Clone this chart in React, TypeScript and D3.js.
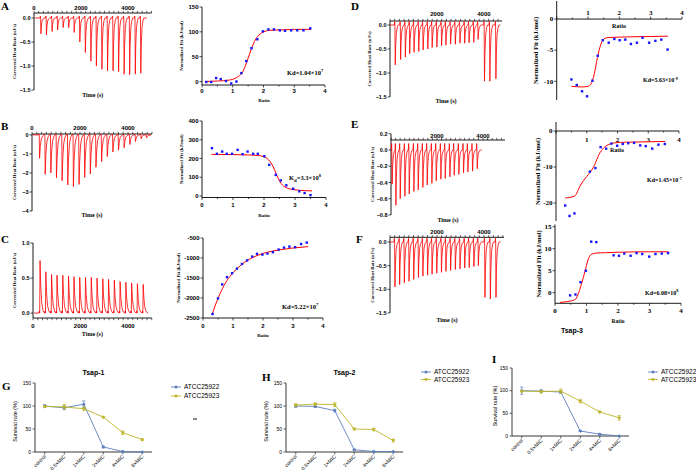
import React from 'react';
import * as d3 from 'd3';

const SERIF = '"Liberation Serif","Times New Roman",serif';
const SANS = '"Liberation Sans",Arial,sans-serif';
const RED = '#ff0000';
const DOT = '#1414ff';
const BLUE = '#5b7fbe';
const OLIVE = '#bdb52b';

// ---------- raw ITC data (injection time s, peak uJ/s) ----------
const aTimes = [285, 520, 760, 995, 1230, 1465, 1700, 1940, 2175, 2410, 2645, 2880, 3120, 3355, 3590, 3825, 4060, 4300, 4535];
const aPeaks = [-0.33, -0.35, -0.28, -0.25, -0.2, -0.2, -0.3, -0.5, -0.72, -0.9, -1.0, -1.07, -1.1, -1.1, -1.12, -1.17, -1.18, -1.17, -1.15];
const bTimes = [306, 540, 775, 1010, 1245, 1480, 1715, 1950, 2185, 2420, 2655, 2890, 3125, 3360, 3595, 3830, 4065, 4300, 4535, 4760];
const bPeaks = [-1.23, -2.07, -2.0, -2.25, -2.4, -2.63, -2.72, -2.6, -2.23, -2.05, -1.7, -1.4, -1.14, -0.9, -0.8, -0.67, -0.5, -0.35, -0.2, -0.15];
const cTimes = [286, 529, 771, 1000, 1243, 1486, 1714, 1957, 2200, 2443, 2686, 2929, 3171, 3414, 3657, 3900, 4143, 4386, 4629];
const cPeaks = [0.75, 0.59, 0.55, 0.54, 0.54, 0.53, 0.52, 0.51, 0.51, 0.51, 0.5, 0.49, 0.48, 0.47, 0.45, 0.44, 0.43, 0.42, 0.41];
const dTimes = [214, 443, 643, 829, 1014, 1214, 1400, 1600, 1786, 1986, 2186, 2371, 2571, 2771, 2971, 3171, 3357, 3557, 3743, 4014, 4243, 4500];
const dPeaks = [-0.83, -0.72, -0.67, -0.6, -0.57, -0.55, -0.52, -0.5, -0.47, -0.46, -0.43, -0.42, -0.4, -0.4, -0.38, -0.38, -0.37, -0.36, -0.3, -1.17, -1.17, -1.12];
const eTimes = [40, 203, 391, 594, 783, 986, 1174, 1377, 1565, 1768, 1957, 2159, 2348, 2551, 2739, 2942, 3145, 3333, 3536, 3739];
const ePeaks = [-0.42, -0.68, -0.6, -0.57, -0.54, -0.51, -0.49, -0.46, -0.43, -0.41, -0.38, -0.36, -0.35, -0.33, -0.31, -0.3, -0.28, -0.27, -0.26, -0.23];
const fTimes = [200, 400, 600, 800, 1000, 1200, 1390, 1590, 1780, 1980, 2180, 2370, 2570, 2770, 2970, 3170, 3360, 3560, 3750, 4030, 4260, 4500];
const fPeaks = [-0.95, -0.9, -0.86, -0.83, -0.79, -0.75, -0.72, -0.7, -0.68, -0.66, -0.64, -0.62, -0.6, -0.58, -0.57, -0.55, -0.54, -0.52, -0.5, -1.17, -1.2, -1.17];

// ---------- fitted isotherms ----------
const aRatio = [0.14, 0.3, 0.46, 0.61, 0.78, 0.95, 1.12, 1.28, 1.44, 1.61, 1.8, 1.98, 2.16, 2.34, 2.53, 2.7, 2.9, 3.1, 3.3, 3.52];
const aFit = [-1, -1, 7, 5, 1, -4, 0, 17, 41, 67, 85, 101, 105, 105, 103, 102, 103, 103, 103, 107];
const aCurveX = [0.1, 0.5, 0.9, 1.1, 1.2, 1.3, 1.4, 1.5, 1.6, 1.7, 1.8, 1.9, 2.0, 2.2, 2.6, 3.0, 3.55];
const aCurveY = [0, 1, 3, 7, 11, 17, 30, 47, 65, 80, 90, 96, 100, 103, 104, 105, 105];

const bRatio = [0.32, 0.48, 0.65, 0.8, 0.97, 1.15, 1.31, 1.47, 1.65, 1.8, 2.01, 2.17, 2.38, 2.54, 2.72, 2.94, 3.14, 3.31, 3.5];
const bFit = [255, 225, 237, 225, 225, 246, 223, 237, 225, 225, 212, 166, 113, 83, 57, 39, 25, 16, 5];
const bCurveX = [0.3, 1.0, 1.5, 1.8, 2.0, 2.1, 2.2, 2.3, 2.4, 2.5, 2.6, 2.75, 3.0, 3.3, 3.55];
const bCurveY = [222, 221, 219, 216, 210, 200, 183, 155, 115, 80, 58, 42, 33, 29, 27];

const cRatio = [0.32, 0.5, 0.64, 0.8, 0.97, 1.13, 1.3, 1.47, 1.64, 1.8, 1.98, 2.15, 2.33, 2.52, 2.7, 2.88, 3.07, 3.27, 3.46];
const cFit = [-2400, -2010, -1660, -1480, -1380, -1265, -1150, -1060, -965, -895, -915, -890, -855, -790, -740, -715, -730, -650, -615];
const cCurveX = [0.3, 0.4, 0.5, 0.6, 0.7, 0.8, 0.9, 1.0, 1.2, 1.4, 1.6, 1.8, 2.0, 2.3, 2.6, 3.0, 3.5];
const cCurveY = [-2420, -2200, -2010, -1840, -1690, -1560, -1460, -1370, -1220, -1100, -1010, -940, -885, -830, -790, -750, -715];

const dRatio = [0.47, 0.64, 0.81, 0.97, 1.14, 1.31, 1.47, 1.66, 1.84, 2.01, 2.19, 2.37, 2.56, 2.74, 2.95, 3.15, 3.34, 3.54];
const dFit = [-9.7, -10.6, -11.6, -12.4, -9.9, -5.9, -3.4, -3.8, -3.2, -3.4, -3.3, -4.0, -3.8, -3.0, -3.8, -3.5, -3.3, -4.9];
const dCurveX = [0.47, 0.8, 1.0, 1.1, 1.2, 1.3, 1.4, 1.5, 1.6, 2.0, 3.0, 3.55];
const dCurveY = [-10.8, -10.9, -10.8, -10.4, -8.8, -6.2, -4.2, -3.2, -3.0, -2.9, -2.8, -2.75];

const eRatio = [0.3, 0.44, 0.6, 1.1, 1.28, 1.45, 1.63, 1.8, 1.99, 2.17, 2.35, 2.54, 2.74, 2.92, 3.13, 3.33, 3.54];
const eFit = [-20.7, -23.6, -22.9, -11.3, -10.3, -4.5, -4.9, -3.5, -4.1, -3.6, -3.4, -3.3, -4.0, -4.2, -4.9, -3.8, -3.6];
const eCurveX = [0.3, 0.6, 0.8, 1.0, 1.1, 1.25, 1.4, 1.55, 1.7, 1.9, 2.3, 3.0, 3.55];
const eCurveY = [-18.6, -18.1, -15, -12.6, -11.6, -9.5, -6.5, -4.7, -3.8, -3.3, -3.1, -3.0, -2.9];

const fRatio = [0.48, 0.65, 0.81, 0.98, 1.15, 1.31, 1.86, 2.03, 2.2, 2.4, 2.59, 2.77, 2.99, 3.19, 3.39, 3.59];
const fFit = [-0.6, -0.4, 2.4, 5.0, 11.6, 11.5, 8.5, 8.4, 8.9, 8.4, 9.0, 8.8, 8.2, 8.8, 8.9, 9.0];
const fCurveX = [0.16, 0.4, 0.65, 0.75, 0.85, 0.95, 1.05, 1.15, 1.3, 1.6, 2.0, 3.0, 3.6];
const fCurveY = [-2.2, -2.0, -1.5, 0, 2.2, 4.8, 7.5, 8.7, 9.0, 9.1, 9.2, 9.3, 9.3];

// ---------- survival ----------
const categories = ['control', '0.5×MIC', '1×MIC', '2×MIC', '4×MIC', '8×MIC'];
const seriesNames = ['ATCC25922', 'ATCC25923'];
const gBlue = [100, 96, 104, 11, 1, 0];
const gBlueErr = [3, 4, 7, 2, 1, 0];
const gYel = [99, 98, 94, 76, 42, 27];
const gYelErr = [2, 5, 4, 2, 4, 2];
const hBlue = [100, 99, 90, 5, 1, 1];
const hBlueErr = [3, 2, 3, 1, 1, 0];
const hYel = [102, 104, 103, 50, 49, 25];
const hYelErr = [3, 3, 4, 2, 3, 3];
const iBlue = [100, 99, 97, 11, 4, 0];
const iBlueErr = [8, 3, 3, 1, 1, 0];
const iYel = [99, 98, 99, 77, 53, 40];
const iYelErr = [2, 3, 5, 4, 2, 5];
const survTicks = [0, 50, 100, 150];

function spikeTrace(times: number[], peaks: number[], start: number, end: number, w: number, bump: number) {
  const pts: [number, number][] = [[start, 0]];
  times.forEach((t, i) => {
    const p = peaks[i];
    pts.push(
      [t - 30 * w, 0], [t - 14 * w, bump], [t - 4, 0], [t + 10, p],
      [t + 30 * w, p * 0.5], [t + 60 * w, p * 0.18], [t + 100 * w, p * 0.05], [t + 140 * w, 0]
    );
  });
  pts.push([end, 0]);
  return pts;
}

function RawPanel(p: any) {
  const x = d3.scaleLinear().domain([0, p.tMax]).range(p.xr);
  const y = d3.scaleLinear().domain(p.yd).range(p.yr);
  const line = d3.line<[number, number]>().x(d => x(d[0])).y(d => y(d[1]));
  const pts = spikeTrace(p.times, p.peaks, p.start, p.end, p.w, p.bump);
  const ay = y(p.axisVal);
  const minor = d3.range(0, p.tMax + 1, 200);
  const up = p.axisTop;
  const yMid = (p.yr[0] + p.yr[1]) / 2;
  return (
    <g>
      <line x1={p.xr[0]} x2={p.xr[1]} y1={ay} y2={ay} stroke="#000" strokeWidth={0.9} />
      {minor.map(t => (
        <line key={t} x1={x(t)} x2={x(t)} y1={up ? ay - 2.2 : ay} y2={up ? ay : ay + 2.2} stroke="#000" strokeWidth={0.6} />
      ))}
      {p.xLabels.map((t: number) => (
        <text key={t} x={x(t)} y={p.xLabelY} textAnchor="middle" fontFamily={SANS} fontWeight="bold" fontSize={6}>{t}</text>
      ))}
      <line x1={p.xr[0]} x2={p.xr[0]} y1={p.yr[0]} y2={p.yr[1]} stroke="#000" strokeWidth={0.9} />
      {p.yTicks.map((v: number) => (
        <g key={v}>
          <line x1={p.xr[0] - 2.5} x2={p.xr[0]} y1={y(v)} y2={y(v)} stroke="#000" strokeWidth={0.7} />
          <text x={p.xr[0] - 3.5} y={y(v) + 2} textAnchor="end" fontFamily={SANS} fontWeight="bold" fontSize={5.5}>{d3.format(p.yFmt)(v).replace('-', '-')}</text>
        </g>
      ))}
      <path d={line(pts) || ''} fill="none" stroke={RED} strokeWidth={0.8} />
      <text transform={`translate(${p.ylx},${yMid}) rotate(-90)`} textAnchor="middle" fontFamily={SERIF} fontWeight="bold" fontSize={4.8}>Corrected Heat Rate (uJ/s)</text>
      <text x={(p.xr[0] + p.xr[1]) / 2} y={p.timeY} textAnchor="middle" fontFamily={SERIF} fontWeight="bold" fontSize={6}>Time (s)</text>
    </g>
  );
}

function FitPanel(p: any) {
  const x = d3.scaleLinear().domain([0, 4]).range(p.xr);
  const y = d3.scaleLinear().domain(p.yd).range(p.yr);
  const ay = y(p.axisVal);
  const curve = d3.line<number>().x((d, i) => x(p.cx[i])).y(d => y(d)).curve(d3.curveMonotoneX);
  const serif = p.serifTicks;
  const tf = serif ? SERIF : SANS;
  const ts = serif ? 7 : 6;
  const yMid = (p.yr[0] + p.yr[1]) / 2;
  return (
    <g>
      <line x1={p.xr[0]} x2={p.xr[1]} y1={ay} y2={ay} stroke="#000" strokeWidth={0.9} />
      {d3.range(0, 4.01, 0.5).map(v => (
        <line key={v} x1={x(v)} x2={x(v)} y1={ay} y2={ay + (p.labelsAbove ? -1 : 1) * (v % 1 === 0 ? 2.5 : 1.5)} stroke="#000" strokeWidth={0.7} />
      ))}
      {p.xTicks.map((v: number) => (
        <text key={v} x={x(v)} y={p.xLabelY} textAnchor="middle" fontFamily={tf} fontWeight="bold" fontSize={ts}>{v}</text>
      ))}
      <line x1={p.xr[0]} x2={p.xr[0]} y1={p.yr[0]} y2={p.yr[1]} stroke="#000" strokeWidth={0.9} />
      {p.yTicks.map((v: number) => (
        <g key={v}>
          <line x1={p.xr[0] - 2.5} x2={p.xr[0]} y1={y(v)} y2={y(v)} stroke="#000" strokeWidth={0.7} />
          <text x={p.xr[0] - 3.5} y={y(v) + 2.2} textAnchor="end" fontFamily={tf} fontWeight="bold" fontSize={ts}>{v}</text>
        </g>
      ))}
      <path d={curve(p.cy) || ''} fill="none" stroke={RED} strokeWidth={1} />
      {p.ratios.map((r: number, i: number) => (
        <rect key={i} x={x(r) - 1.2} y={y(p.fits[i]) - 1.2} width={2.4} height={2.4} fill={DOT} />
      ))}
      <text transform={`translate(${p.ylx},${yMid}) rotate(-90)`} textAnchor="middle" fontFamily={SERIF} fontWeight="bold" fontSize={p.ylSize}>Normalized Fit (kJ/mol)</text>
      <text x={p.ratioPos[0]} y={p.ratioPos[1]} textAnchor="middle" fontFamily={SERIF} fontWeight="bold" fontSize={p.ratioSize}>Ratio</text>
      {p.children}
    </g>
  );
}

function Kd(p: { x: number; y: number; m: string; e: string; sub?: boolean; minus?: boolean; size?: number }) {
  const s = p.size || 6.5;
  return (
    <text x={p.x} y={p.y} fontFamily={SERIF} fontWeight="bold" fontSize={s}>
      {p.sub ? (<>K<tspan fontSize={s * 0.75} dy={1.5}>d</tspan><tspan dy={-1.5}>{'=' + p.m + '×10'}</tspan></>) : ('Kd=' + p.m + '×10')}
      <tspan fontSize={s * 0.7} dy={p.minus ? -2.5 : -2.8}>{p.e}</tspan>
    </text>
  );
}

function SurvPanel(p: any) {
  const x = d3.scalePoint().domain(categories).range(p.xr).padding(0.5);
  const y = d3.scaleLinear().domain([0, 150]).range([p.y0, p.y150]);
  const line = d3.line<number>().x((d, i) => x(categories[i]) as number).y(d => y(d));
  const tri = d3.symbol().type(d3.symbolTriangle).size(7)();
  const series = [
    { v: p.blue, e: p.blueErr, c: BLUE, tri: false },
    { v: p.yel, e: p.yelErr, c: OLIVE, tri: true },
  ];
  return (
    <g fontFamily={SANS}>
      <line x1={p.xr[0]} x2={p.xr[1]} y1={p.y0} y2={p.y0} stroke="#222" strokeWidth={0.9} />
      <line x1={p.xr[0]} x2={p.xr[0]} y1={p.y0} y2={p.y150} stroke="#222" strokeWidth={0.9} />
      {survTicks.map(v => (
        <g key={v}>
          <line x1={p.xr[0] - 2.5} x2={p.xr[0]} y1={y(v)} y2={y(v)} stroke="#222" strokeWidth={0.7} />
          <text x={p.xr[0] - 4} y={y(v) + 1.8} textAnchor="end" fontSize={5}>{v}</text>
        </g>
      ))}
      {categories.map(c => (
        <g key={c}>
          <line x1={x(c)} x2={x(c)} y1={p.y0} y2={p.y0 + 2.5} stroke="#222" strokeWidth={0.7} />
          <text transform={`translate(${(x(c) as number) + 1.5},${p.y0 + 5}) rotate(-45)`} textAnchor="end" fontSize={5}>{c}</text>
        </g>
      ))}
      {series.map((s, k) => (
        <g key={k}>
          <path d={line(s.v) || ''} fill="none" stroke={s.c} strokeWidth={0.9} />
          {s.v.map((v: number, i: number) => {
            const cx = x(categories[i]) as number;
            const e = s.e[i];
            return (
              <g key={i}>
                {e > 0 && (
                  <g stroke={s.c} strokeWidth={0.7}>
                    <line x1={cx} x2={cx} y1={y(v - e)} y2={y(v + e)} />
                    <line x1={cx - 1.6} x2={cx + 1.6} y1={y(v + e)} y2={y(v + e)} />
                    <line x1={cx - 1.6} x2={cx + 1.6} y1={y(v - e)} y2={y(v - e)} />
                  </g>
                )}
                {s.tri ? (
                  <path d={tri || ''} transform={`translate(${cx},${y(v)}) rotate(180)`} fill={s.c} />
                ) : (
                  <circle cx={cx} cy={y(v)} r={1.5} fill={s.c} />
                )}
              </g>
            );
          })}
        </g>
      ))}
      <text transform={`translate(${p.ylx},${(p.y0 + p.y150) / 2 + 4}) rotate(-90)`} textAnchor="middle" fontSize={5.5}>Survival rate (%)</text>
      {p.title && (
        <text x={(p.xr[0] + p.xr[1]) / 2} y={p.titleY} textAnchor="middle" fontWeight="bold" fontSize={7}>{p.title}</text>
      )}
      {seriesNames.map((n, k) => {
        const ly = p.legY + k * p.legGap;
        const c = k === 0 ? BLUE : OLIVE;
        return (
          <g key={n}>
            <line x1={p.legX} x2={p.legX + 10} y1={ly} y2={ly} stroke={c} strokeWidth={0.9} />
            {k === 0 ? (
              <circle cx={p.legX + 5} cy={ly} r={1.5} fill={c} />
            ) : (
              <path d={tri || ''} transform={`translate(${p.legX + 5},${ly}) rotate(180)`} fill={c} />
            )}
            <text x={p.legX + 13} y={ly + 2.4} fontSize={6.5}>{n}</text>
          </g>
        );
      })}
    </g>
  );
}

function Letter({ x, y, t }: { x: number; y: number; t: string }) {
  return <text x={x} y={y} fontFamily={SERIF} fontWeight="bold" fontSize={11}>{t}</text>;
}

export default function App() {
  return (
    <svg width={696} height={473} style={{ position: 'fixed', left: 0, top: 0, background: '#fff' }}>
      <rect width={696} height={473} fill="#fff" />
      {/* Raw ITC */}
      <RawPanel times={aTimes} peaks={aPeaks} xr={[34, 151.5]} tMax={5000} yd={[-1.5, 0.104]} yr={[90, 13]} axisVal={0.104} axisTop
        yTicks={[0, -0.5, -1, -1.5]} yFmt=".1f" xLabels={[0, 2000, 4000]} xLabelY={9.5} start={40} end={4800} w={1} bump={0.04} ylx={16} timeY={97} />
      <RawPanel times={bTimes} peaks={bPeaks} xr={[32, 152]} tMax={5000} yd={[-4, 0.05]} yr={[211, 134]} axisVal={0.05} axisTop
        yTicks={[0, -1, -2, -3, -4]} yFmt="d" xLabels={[0, 2000, 4000]} xLabelY={130} start={40} end={4860} w={1.3} bump={0.05} ylx={16} timeY={217} />
      <RawPanel times={cTimes} peaks={cPeaks} xr={[33, 151.75]} tMax={5000} yd={[-0.07, 1.0]} yr={[318, 243]} axisVal={-0.07} axisTop={false}
        yTicks={[0, 0.5, 1.0]} yFmt=".1f" xLabels={[0, 2000, 4000]} xLabelY={328} start={40} end={4800} w={1.4} bump={0.03} ylx={16} timeY={336} />
      <RawPanel times={dTimes} peaks={dPeaks} xr={[390, 502]} tMax={4770} yd={[-1.5, 0.083]} yr={[97, 21]} axisVal={0.083} axisTop
        yTicks={[0, -0.5, -1, -1.5]} yFmt=".1f" xLabels={[2000, 4000]} xLabelY={16} start={0} end={4700} w={1} bump={0.07} ylx={371} timeY={103} />
      <RawPanel times={eTimes} peaks={ePeaks} xr={[391, 505]} tMax={4957} yd={[-0.8, 0.2]} yr={[215, 133.75]} axisVal={0.123} axisTop
        yTicks={[0.2, 0, -0.2, -0.4, -0.6, -0.8]} yFmt=".1f" xLabels={[2000, 4000]} xLabelY={137.5} start={0} end={3950} w={1} bump={0.08} ylx={374} timeY={222} />
      <RawPanel times={fTimes} peaks={fPeaks} xr={[390, 504]} tMax={4851} yd={[-1.5, 0.1]} yr={[313, 237.3]} axisVal={0.1} axisTop
        yTicks={[0, -0.5, -1, -1.5]} yFmt=".1f" xLabels={[2000, 4000]} xLabelY={234} start={0} end={4700} w={1} bump={0.08} ylx={374} timeY={322} />

      {/* Fits */}
      <FitPanel xr={[202, 325]} yd={[-7, 150]} yr={[85, 7]} axisVal={-7} xTicks={[0, 1, 2, 3, 4]} xLabelY={93} yTicks={[0, 50, 100, 150]}
        ratios={aRatio} fits={aFit} cx={aCurveX} cy={aCurveY} ylx={183} ylSize={4.8} ratioPos={[264, 102]} ratioSize={5}>
        <Kd x={287} y={75} m="1.04" e="7" />
      </FitPanel>
      <FitPanel xr={[202, 326]} yd={[-8, 400]} yr={[197.5, 121]} axisVal={-8} xTicks={[0, 1, 2, 3, 4]} xLabelY={207} yTicks={[0, 100, 200, 300, 400]}
        ratios={bRatio} fits={bFit} cx={bCurveX} cy={bCurveY} ylx={183} ylSize={4.8} ratioPos={[264, 217]} ratioSize={5}>
        <Kd x={289} y={180} m="3.3" e="8" sub />
      </FitPanel>
      <FitPanel xr={[203, 323]} yd={[-2500, -500]} yr={[318, 238]} axisVal={-2500} xTicks={[0, 1, 2, 3, 4]} xLabelY={328} yTicks={[-2500, -2000, -1500, -1000, -500]}
        ratios={cRatio} fits={cFit} cx={cCurveX} cy={cCurveY} ylx={180} ylSize={4.8} ratioPos={[263, 337]} ratioSize={5}>
        <Kd x={282} y={309} m="5.22" e="7" />
      </FitPanel>
      <FitPanel xr={[556.7, 682]} yd={[-13, 2.9]} yr={[100, 1]} axisVal={0} labelsAbove xTicks={[1, 2, 3, 4]} xLabelY={14.5} yTicks={[0, -5, -10]}
        ratios={dRatio} fits={dFit} cx={dCurveX} cy={dCurveY} ylx={538} ylSize={6.5} ratioPos={[619, 28]} ratioSize={6} serifTicks>
        <Kd x={643} y={82} m="5.63" e="-9" minus size={6} />
      </FitPanel>
      <FitPanel xr={[556, 679]} yd={[-25, 2.5]} yr={[221, 122]} axisVal={0} xTicks={[1, 2, 3, 4]} xLabelY={142} yTicks={[0, -10, -20]}
        ratios={eRatio} fits={eFit} cx={eCurveX} cy={eCurveY} ylx={540} ylSize={6.5} ratioPos={[617, 152]} ratioSize={6} serifTicks>
        <Kd x={647} y={182} m="1.45" e="-7" minus size={6} />
      </FitPanel>
      <FitPanel xr={[555, 681]} yd={[-2.4, 15.5]} yr={[303.3, 224.5]} axisVal={-2.4} xTicks={[0, 1, 2, 3, 4]} xLabelY={312.5} yTicks={[0, 5, 10, 15]}
        ratios={fRatio} fits={fFit} cx={fCurveX} cy={fCurveY} ylx={541} ylSize={6.5} ratioPos={[618, 323]} ratioSize={5.5} serifTicks>
        <Kd x={645} y={295} m="6.08" e="8" size={6} />
      </FitPanel>
      <text x={572} y={333} textAnchor="middle" fontFamily={SANS} fontWeight="bold" fontSize={7}>Tsap-3</text>

      {/* Survival */}
      <SurvPanel xr={[35, 152]} y0={452} y150={383} blue={gBlue} blueErr={gBlueErr} yel={gYel} yelErr={gYelErr}
        title="Tsap-1" titleY={375} ylx={17} legX={171} legY={387} legGap={9} />
      <SurvPanel xr={[286, 403]} y0={452} y150={383} blue={hBlue} blueErr={hBlueErr} yel={hYel} yelErr={hYelErr}
        title="Tsap-2" titleY={375} ylx={268} legX={421} legY={372} legGap={7.5} />
      <SurvPanel xr={[512, 629]} y0={436} y150={368} blue={iBlue} blueErr={iBlueErr} yel={iYel} yelErr={iYelErr}
        ylx={497} legX={648} legY={372} legGap={7.5} />
      <rect x={193} y={418} width={4} height={2} fill="#888" />

      <Letter x={1} y={10} t="A" />
      <Letter x={1} y={130} t="B" />
      <Letter x={1} y={243} t="C" />
      <Letter x={351} y={10} t="D" />
      <Letter x={351} y={128} t="E" />
      <Letter x={356} y={243} t="F" />
      <Letter x={2} y={390} t="G" />
      <Letter x={262} y={381} t="H" />
      <Letter x={492} y={363} t="I" />
    </svg>
  );
}
